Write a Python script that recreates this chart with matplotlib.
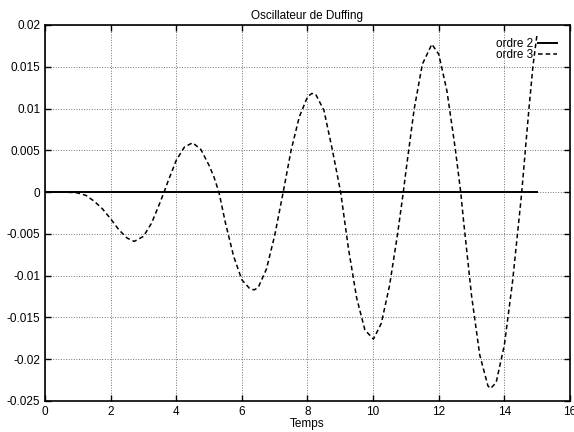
import numpy as np
import matplotlib
matplotlib.use("Agg")
import matplotlib.pyplot as plt

plt.rcParams['font.family'] = ['Liberation Sans', 'DejaVu Sans']

# ordre 2 : stays at zero over the whole run
t2 = [0.0, 15.0]
y2 = [0.0, 0.0]

# ordre 3 : values
t3 = [0.0, 0.5, 0.75, 1.0, 1.25, 1.5, 1.75, 2.0, 2.25, 2.5, 2.72, 3.0, 3.25, 3.5, 3.63,
      3.75, 4.0, 4.25, 4.5, 4.75, 5.0, 5.15, 5.3,
      5.5, 5.75, 6.0, 6.25, 6.38, 6.5, 6.75, 7.0, 7.26,
      7.5, 7.75, 8.0, 8.13, 8.25, 8.5, 8.75, 9.01,
      9.25, 9.5, 9.75, 10.01, 10.25, 10.5, 10.75, 10.92,
      11.0, 11.25, 11.5, 11.79, 12.0, 12.25, 12.5, 12.67,
      12.75, 13.0, 13.25, 13.5, 13.58, 13.75, 14.0, 14.25, 14.5, 14.53,
      14.65, 14.75, 14.875, 15.0]
y3 = [0.0, 0.0, -0.00003, -0.0001, -0.0004, -0.0011, -0.0020, -0.0032, -0.0045, -0.0055, -0.0059, -0.0053, -0.0037, -0.0013, 0.0,
      0.0013, 0.0038, 0.0054, 0.0059, 0.0051, 0.0032, 0.0018, 0.0,
      -0.0037, -0.0077, -0.0105, -0.0116, -0.0117, -0.0114, -0.0092, -0.0052, 0.0,
      0.0050, 0.0090, 0.0114, 0.0118, 0.0117, 0.0098, 0.0052, 0.0,
      -0.0068, -0.0127, -0.0165, -0.0176, -0.0157, -0.0112, -0.0049, 0.0,
      0.0025, 0.0099, 0.0153, 0.0177, 0.0165, 0.0121, 0.0053, 0.0,
      -0.0032, -0.0124, -0.0195, -0.0232, -0.0235, -0.0228, -0.0183, -0.0107, -0.0012, 0.0,
      0.0055, 0.0100, 0.0152, 0.0190]

xticks = np.arange(0, 17, 2)
yticks = [-0.025, -0.02, -0.015, -0.01, -0.005, 0, 0.005, 0.01, 0.015, 0.02]
ytick_labels = ['-0.025', '-0.02', '-0.015', '-0.01', '-0.005', '0', '0.005', '0.01', '0.015', '0.02']

fig = plt.figure(figsize=(5.74, 4.32), dpi=100)
ax = fig.add_axes([0.0784, 0.0718, 0.9146, 0.8704])

ax.plot(t2, y2, '-', color='black', linewidth=1.4, label='ordre 2')
ax.plot(t3, y3, '--', color='black', linewidth=1.1, dashes=(3, 2), label='ordre 3')

ax.set_xlim(0, 16)
ax.set_ylim(-0.025, 0.02)
ax.set_xticks(xticks)
ax.set_yticks(yticks)
ax.set_yticklabels(ytick_labels)

ax.grid(True, linestyle=':', color='0.45', linewidth=0.7)
ax.tick_params(direction='in', top=True, right=True, labelsize=8.5, length=4, width=1)
for s in ax.spines.values():
    s.set_linewidth(1.2)

ax.set_title('Oscillateur de Duffing', fontsize=8.5, pad=4)
ax.set_xlabel('Temps', fontsize=8.5, labelpad=0)

ax.legend(loc='upper right', frameon=False, markerfirst=False, fontsize=8.5,
          handlelength=1.6, handletextpad=0.4, labelspacing=-0.1,
          borderaxespad=0.7, bbox_to_anchor=(1.0, 1.0))

fig.savefig('out.png', dpi=100)
